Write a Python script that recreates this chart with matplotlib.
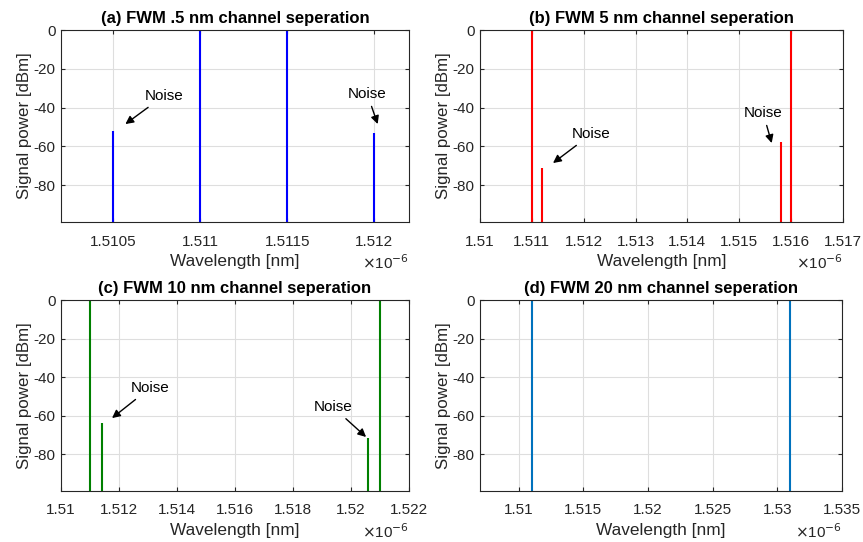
import matplotlib
matplotlib.use('Agg')
import matplotlib.pyplot as plt
from matplotlib.ticker import FuncFormatter

plt.rcParams['font.family'] = ['Liberation Sans', 'DejaVu Sans']
plt.rcParams['axes.unicode_minus'] = False

# wavelengths [m] and peak powers [dBm] for each panel
wl_a = [1.5105e-6, 1.5110e-6, 1.5115e-6, 1.5120e-6]
pw_a = [-52, 0, 0, -53]
wl_b = [1.5110e-6, 1.5112e-6, 1.5158e-6, 1.5160e-6]
pw_b = [0, -71, -58, 0]
wl_c = [1.5110e-6, 1.5114e-6, 1.5206e-6, 1.5210e-6]
pw_c = [0, -64, -71.5, 0]
wl_d = [1.5110e-6, 1.5310e-6]
pw_d = [0, 0]

titles = ['(a) FWM .5 nm channel seperation',
          '(b) FWM 5 nm channel seperation',
          '(c) FWM 10 nm channel seperation',
          '(d) FWM 20 nm channel seperation']
colors = ['#0000ff', '#ff0000', '#008000', '#0072bd']
xlims = [(1.5102e-6, 1.5122e-6), (1.510e-6, 1.517e-6),
         (1.510e-6, 1.522e-6), (1.5070e-6, 1.5350e-6)]
xticks = [[1.5105e-6, 1.511e-6, 1.5115e-6, 1.512e-6],
          [1.510e-6 + i * 1e-9 for i in range(8)],
          [1.510e-6 + i * 2e-9 for i in range(7)],
          [1.510e-6 + i * 5e-9 for i in range(6)]]

# noise annotations: (head x, head y, text x, text y), x in um
notes = [[(1.51057, -48.5, 1.51079, -34), (1.51202, -48.5, 1.51196, -33)],
         [(1.511408, -68.6, 1.51215, -53.6), (1.515625, -58.3, 1.51546, -42.8)],
         [(1.51176, -61.2, 1.51307, -45.6), (1.52052, -71, 1.51938, -55.5)],
         []]

data = [(wl_a, pw_a), (wl_b, pw_b), (wl_c, pw_c), (wl_d, pw_d)]

W, H = 863, 542
fig = plt.figure(figsize=(W / 100, H / 100), dpi=100)
# axes boxes in pixels: left, top, right, bottom
boxes = [(61, 30, 409, 222), (480, 30, 843, 222),
         (61, 300, 409, 491), (480, 300, 842, 491)]

dark = (0.15, 0.15, 0.15)
for i in range(4):
    l, t, r, b = boxes[i]
    ax = fig.add_axes([l / W, (H - b) / H, (r - l) / W, (b - t) / H])
    wl, pw = data[i]
    ax.vlines(wl, -300, pw, color=colors[i], lw=1.5)
    ax.set_xlim(*xlims[i])
    ax.set_ylim(-99, 0)
    ax.set_xticks(xticks[i])
    ax.set_yticks([-80, -60, -40, -20, 0])
    ax.xaxis.set_major_formatter(FuncFormatter(lambda v, p: '%g' % round(v * 1e6, 6)))
    ax.grid(True, color=(0.87, 0.87, 0.87), lw=0.8)
    ax.set_axisbelow(True)
    for s in ax.spines.values():
        s.set_color(dark)
        s.set_linewidth(0.8)
    ax.tick_params(direction='in', length=3, width=0.8, colors=dark,
                   labelsize=11, top=True, right=True)
    ax.tick_params(axis='x', pad=9)
    ax.tick_params(axis='y', pad=4)
    ax.set_xlabel('Wavelength [nm]', fontsize=12.4, color=dark, labelpad=4)
    ax.set_ylabel('Signal power [dBm]', fontsize=12.2, color=dark, labelpad=1)
    ax.set_title(titles[i], fontsize=12, fontweight='bold', pad=5)
    ax.text(1.0, -0.165, r'$\times$10$^{-6}$', transform=ax.transAxes,
            ha='right', va='top', fontsize=11, color=dark)
    for hx, hy, tx, ty in notes[i]:
        ax.annotate('Noise', xy=(hx * 1e-6, hy), xytext=(tx * 1e-6, ty),
                    ha='center', va='center', fontsize=11,
                    arrowprops=dict(arrowstyle='-|>', color='k', lw=1,
                                    mutation_scale=12, shrinkA=2, shrinkB=0))

fig.savefig('out.png', dpi=100)
